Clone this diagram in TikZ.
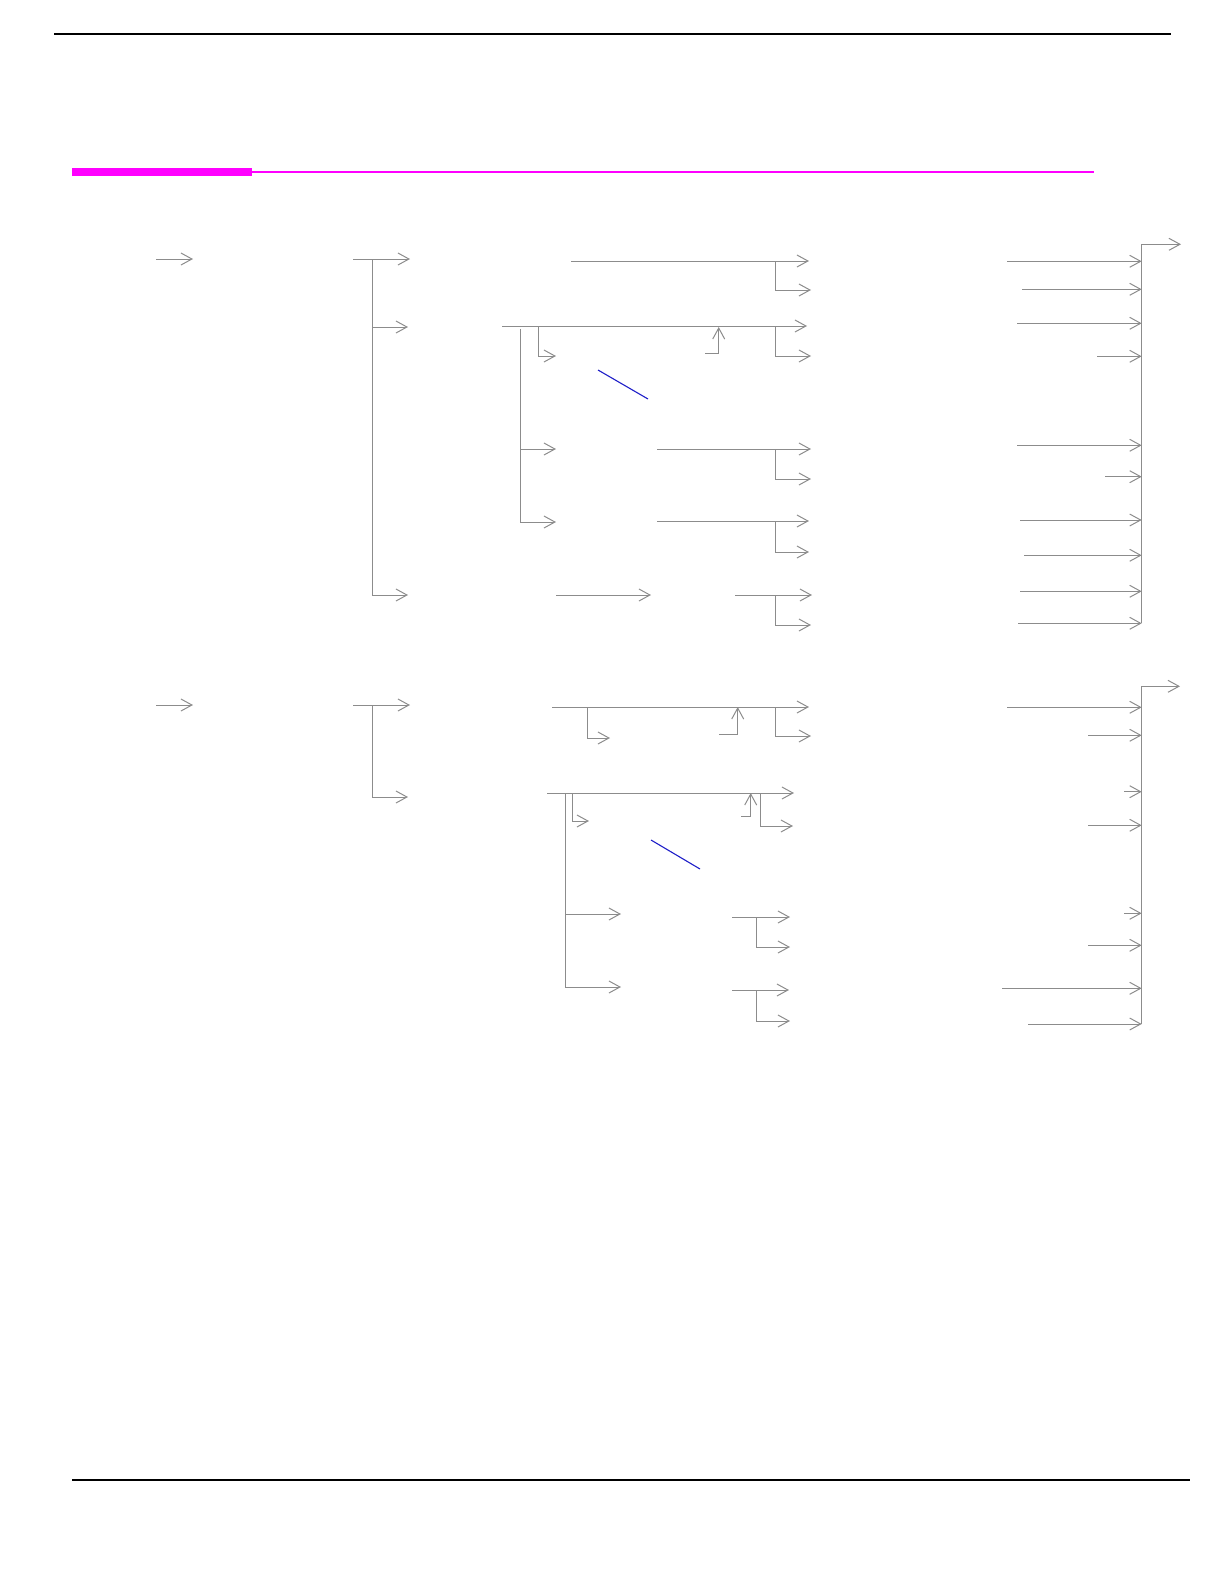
\documentclass[tikz,border=0pt]{standalone}
\usepackage{tikz}
\usetikzlibrary{arrows.meta}
\definecolor{flowgray}{RGB}{140,140,140}
\definecolor{barmagenta}{RGB}{255,0,255}
\definecolor{notblue}{RGB}{30,30,200}
\tikzset{
  wire/.style={draw=flowgray,line width=1pt},
  flow/.style={wire,-{Straight Barb[length=11pt,width=12pt]}},
  note/.style={draw=notblue,line width=1.1pt}
}

\begin{document}
\begin{tikzpicture}[x=1pt,y=-1pt]
\useasboundingbox (0,0) rectangle (1224,1582);

	% Page rules
	\draw [black,line width=1.2pt] (54,34) -- (1171,34);
	\draw [black,line width=1.2pt] (72,1480) -- (1190,1480);
	\fill [barmagenta] (72,168) rectangle (252,175.5);
	\draw [barmagenta,line width=2pt] (252,172) -- (1094,172);

	% ---- upper tree ----
	\coordinate (rootA) at (372,259);
	\draw [flow] (156,259) -- (193,259);
	\draw [flow] (353,259) -- (410,259);
	\draw [wire] (rootA) -- (372,595);
	\draw [flow] (372,327) -- (408,327);
	\draw [flow] (372,595) -- (408,595);

	% first row
	\draw [flow] (571,261) -- (809,261);
	\draw [flow] (775,261) |- (811,290);

	% second row
	\draw [flow] (502,326) -- (807,326);
	\draw [flow] (538,326) |- (556,356);
	\draw [flow] (705,353) -| (718.7,327);
	\draw [flow] (775,326) |- (811,356);
	\draw [note] (598,370) -- (648,399);
	\draw [wire] (520,329) -- (520,522);
	\draw [flow] (520,449) -- (556,449);
	\draw [flow] (520,522) -- (556,522);

	% third and fourth rows
	\draw [flow] (657,449) -- (811,449);
	\draw [flow] (775,449) |- (811,479);
	\draw [flow] (657,521) -- (809,521);
	\draw [flow] (775,521) |- (809,552);

	% fifth row
	\draw [flow] (556,595) -- (651,595);
	\draw [flow] (735,595) -- (812,595);
	\draw [flow] (775,595) |- (811,625);

	% right bus
	\draw [flow] (1141.7,623) -- (1141.7,244.3) -- (1181,244.3);
	\foreach \y/\x in {261.3/1007, 289.3/1022, 323.3/1017, 356.3/1097,
	                   445.3/1017, 476.7/1105, 520/1020, 555.3/1024,
	                   591.3/1020, 623.3/1018}
	  \draw [flow] (\x,\y) -- (1141.7,\y);

	% ---- lower tree ----
	\coordinate (rootB) at (372,705);
	\draw [flow] (156,705) -- (193,705);
	\draw [flow] (353,705) -- (410,705);
	\draw [flow] (rootB) |- (408,797);

	% first row
	\draw [flow] (552,707) -- (809,707);
	\draw [flow] (587,707) |- (610,738);
	\draw [flow] (719,734) -| (737.7,707);
	\draw [flow] (775,707) |- (811,736);

	% second row
	\draw [flow] (547,793) -- (794,793);
	\draw [flow] (572,793) |- (589,821);
	\draw [flow] (741,816) -| (750.7,793);
	\draw [flow] (760,793) |- (793,826);
	\draw [note] (651,840) -- (700,869);
	\draw [wire] (565,793) -- (565,987);
	\draw [flow] (565,914) -- (621,914);
	\draw [flow] (565,987) -- (621,987);

	% third and fourth rows
	\draw [flow] (732,917) -- (790,917);
	\draw [flow] (756,917) |- (790,947);
	\draw [flow] (732,990) -- (789,990);
	\draw [flow] (756,990) |- (790,1021);

	% right bus
	\draw [flow] (1141.7,1024) -- (1141.7,686.3) -- (1180,686.3);
	\foreach \y/\x in {707.3/1007, 735.3/1088, 791.7/1124, 825.3/1088,
	                   913.3/1124, 945.3/1088, 988.3/1002, 1024/1028}
	  \draw [flow] (\x,\y) -- (1141.7,\y);

\end{tikzpicture}
\end{document}
